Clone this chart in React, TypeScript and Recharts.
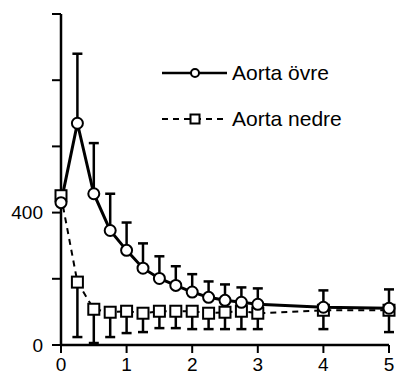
import { LineChart, Line, XAxis, YAxis, ErrorBar } from 'recharts';

const times = [0, 0.25, 0.5, 0.75, 1, 1.25, 1.5, 1.75, 2, 2.25, 2.5, 2.75, 3, 4, 5];
const ovre = [430, 670, 457, 346, 286, 232, 201, 180, 160, 144, 135, 129, 123, 114, 111];
const ovreUp = [0, 210, 153, 111, 84, 75, 67, 58, 54, 48, 48, 45, 48, 51, 57];
const nedre = [451, 190, 108, 99, 102, 96, 102, 102, 102, 96, 99, 102, 96, 105, 105];
const nedreDown = [0, 166, 102, 75, 66, 57, 51, 51, 54, 48, 51, 54, 48, 57, 66];

const xTicks = [0, 1, 2, 3, 4, 5];
const yTicks = [0, 200, 400, 600, 800, 1000];
const yLabelled = [0, 400];

const FONT = '"Liberation Sans", Arial, sans-serif';

const data = times.map((t, i) => ({
  t,
  ovre: ovre[i],
  ovreErr: [0, ovreUp[i]],
  nedre: nedre[i],
  nedreErr: [nedreDown[i], 0],
}));

function CircleDot(props: any) {
  const { cx, cy, index } = props;
  if (cx == null || cy == null) return null;
  return <circle key={`c${index}`} cx={cx} cy={cy} r={5.5} fill="#fff" stroke="#000" strokeWidth={2} />;
}

function SquareDot(props: any) {
  const { cx, cy, index } = props;
  if (cx == null || cy == null) return null;
  return <rect key={`s${index}`} x={cx - 5.5} y={cy - 5.5} width={11} height={11} fill="#fff" stroke="#000" strokeWidth={2} />;
}

function LegendBox() {
  const row = { display: 'flex', alignItems: 'center', height: 24 } as const;
  return (
    <div style={{ position: 'absolute', left: 160, top: 61, fontFamily: FONT, fontSize: 21, color: '#000', lineHeight: '24px' }}>
      <div style={row}>
        <svg width={72} height={24}>
          <line x1={2} y1={12} x2={67} y2={12} stroke="#000" strokeWidth={2.5} />
          <circle cx={35} cy={12} r={4} fill="#fff" stroke="#000" strokeWidth={2} />
        </svg>
        <span>Aorta övre</span>
      </div>
      <div style={{ ...row, marginTop: 22 }}>
        <svg width={72} height={24}>
          <line x1={2} y1={12} x2={67} y2={12} stroke="#000" strokeWidth={2} strokeDasharray="6 5" />
          <rect x={30.5} y={7.5} width={9} height={9} fill="#fff" stroke="#000" strokeWidth={2} />
        </svg>
        <span>Aorta nedre</span>
      </div>
    </div>
  );
}

export default function App() {
  return (
    <div style={{ position: 'absolute', left: 0, top: 0, width: 396, height: 376, background: '#fff' }}>
      <LineChart width={396} height={376} data={data} margin={{ top: 14, right: 7, bottom: 1, left: 0 }}>
        <XAxis
          dataKey="t"
          type="number"
          domain={[0, 5]}
          ticks={xTicks}
          height={30}
          tickSize={8}
          tickMargin={5}
          stroke="#000"
          axisLine={{ stroke: '#000', strokeWidth: 2.5 }}
          tickLine={{ stroke: '#000', strokeWidth: 2 }}
          tick={{ fill: '#000', fontSize: 19, fontFamily: FONT }}
        />
        <YAxis
          type="number"
          domain={[0, 1000]}
          ticks={yTicks}
          width={61}
          tickSize={9}
          tickMargin={9}
          interval={0}
          stroke="#000"
          axisLine={{ stroke: '#000', strokeWidth: 2.5 }}
          tickLine={{ stroke: '#000', strokeWidth: 2 }}
          tick={{ fill: '#000', fontSize: 19, fontFamily: FONT }}
          tickFormatter={(v: number) => (yLabelled.includes(v) ? String(v) : '')}
        />
        {/* error bars first, so the lines and markers sit on top of them */}
        <Line dataKey="nedre" stroke="none" dot={false} activeDot={false} legendType="none" isAnimationActive={false}>
          <ErrorBar dataKey="nedreErr" direction="y" width={5} stroke="#000" strokeWidth={2.5} />
        </Line>
        <Line dataKey="ovre" stroke="none" dot={false} activeDot={false} legendType="none" isAnimationActive={false}>
          <ErrorBar dataKey="ovreErr" direction="y" width={5} stroke="#000" strokeWidth={2.5} />
        </Line>
        <Line
          dataKey="nedre"
          name="Aorta nedre"
          stroke="#000"
          strokeWidth={2}
          strokeDasharray="6 5"
          dot={SquareDot}
          isAnimationActive={false}
        />
        <Line
          dataKey="ovre"
          name="Aorta övre"
          stroke="#000"
          strokeWidth={3}
          dot={CircleDot}
          isAnimationActive={false}
        />
      </LineChart>
      <LegendBox />
    </div>
  );
}
